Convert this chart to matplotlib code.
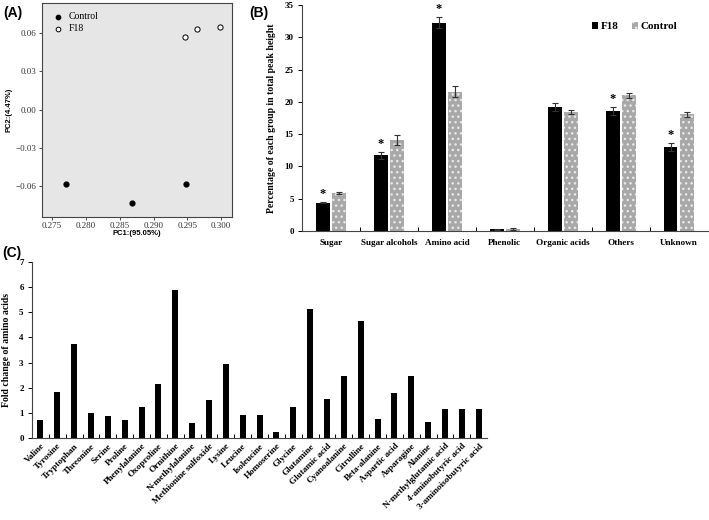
import numpy as np
import matplotlib.pyplot as plt
from matplotlib.patches import Patch

# ---- data ----
# panel A: PCA scores
ctrl_pc1 = [0.2770, 0.2868, 0.2948]
ctrl_pc2 = [-0.0585, -0.0735, -0.0585]
f18_pc1 = [0.2947, 0.2964, 0.2998]
f18_pc2 = [0.0570, 0.0635, 0.0645]

# panel B: percentage of each group
groups = ["Sugar", "Sugar alcohols", "Amino acid", "Phenolic", "Organic acids", "Others", "Unknown"]
f18_pct = [4.4, 11.7, 32.3, 0.25, 19.2, 18.6, 13.0]
f18_err = [0.1, 0.5, 0.9, 0.05, 0.6, 0.6, 0.6]
ctrl_pct = [5.85, 14.1, 21.6, 0.3, 18.4, 21.0, 18.1]
ctrl_err = [0.15, 0.8, 0.9, 0.1, 0.3, 0.4, 0.4]
signif = [True, True, True, False, False, True, True]

# panel C: fold change of amino acids
amino = ["Valine", "Tyrosine", "Tryptophan", "Threonine", "Serine", "Proline",
         "Phenylalanine", "Oxoproline", "Ornithine", "N-methylalanine",
         "Methionine sulfoxide", "Lysine", "Leucine", "Isoleucine", "Homoserine",
         "Glycine", "Glutamine", "Glutamic acid", "Cyanoalanine", "Citrulline",
         "Beta-alanine", "Aspartic acid", "Asparagine", "Alanine",
         "N-methylglutamic acid", "4-aminobutyric acid", "3-aminoisobutyric acid"]
fold = [0.72, 1.83, 3.74, 0.99, 0.87, 0.72, 1.23, 2.13, 5.89, 0.61, 1.49,
        2.94, 0.9, 0.9, 0.25, 1.23, 5.15, 1.53, 2.46, 4.67, 0.76, 1.8, 2.46,
        0.62, 1.14, 1.14, 1.14]

serif = "Liberation Serif"
sans = "Liberation Sans"

fig = plt.figure(figsize=(7.09, 5.2), dpi=100, facecolor="white")

# ---- (A) PCA ----
axA = fig.add_axes([0.0592, 0.583, 0.268, 0.412])
axA.set_facecolor("#e6e6e6")
axA.scatter(ctrl_pc1, ctrl_pc2, s=12, color="black", label="Control", zorder=3)
axA.scatter(f18_pc1, f18_pc2, s=14, facecolor="white", edgecolor="black",
            linewidth=0.7, label="F18", zorder=3)
axA.set_xlim(0.2735, 0.3016)
axA.set_ylim(-0.084, 0.084)
axA.set_xticks([0.275, 0.280, 0.285, 0.290, 0.295, 0.300])
axA.set_xticklabels(["0.275", "0.280", "0.285", "0.290", "0.295", "0.300"])
axA.set_yticks([-0.06, -0.03, 0.0, 0.03, 0.06])
axA.set_yticklabels(["\u22120.06", "\u22120.03", "0.00", "0.03", "0.06"])
for lab in axA.get_xticklabels() + axA.get_yticklabels():
    lab.set_fontfamily(serif)
    lab.set_fontsize(6.5)
    lab.set_color("#333333")
axA.tick_params(length=2.5, width=0.6, pad=1.5, color="#333333")
for sp in axA.spines.values():
    sp.set_color("#444444")
    sp.set_linewidth(0.8)
axA.set_xlabel("PC1:(95.05%)", fontfamily=sans, fontweight="bold", fontsize=5.5, labelpad=0)
axA.set_ylabel("PC2:(4.47%)", fontfamily=sans, fontweight="bold", fontsize=5.5, labelpad=2)
axA.legend(loc="upper left", frameon=False, prop={"family": serif, "size": 7},
           handletextpad=0.1, borderaxespad=0.6, labelspacing=0.3, markerscale=0.9,
           bbox_to_anchor=(-0.02, 1.0))

# ---- (B) group percentages ----
axB = fig.add_axes([0.426, 0.556, 0.572, 0.434])
x = np.arange(len(groups))
w = 0.24
axB.bar(x - 0.14, f18_pct, w, color="black", zorder=2)
axB.errorbar(x - 0.14, f18_pct, yerr=f18_err, fmt="none", ecolor="#333333",
             elinewidth=0.8, capsize=2, capthick=0.8, zorder=3)
axB.bar(x + 0.14, ctrl_pct, w, color="#a8a8a8", edgecolor="#e8e8e8",
        linewidth=0, hatch="...", zorder=2)
axB.errorbar(x + 0.14, ctrl_pct, yerr=ctrl_err, fmt="none", ecolor="#333333",
             elinewidth=0.8, capsize=2, capthick=0.8, zorder=3)
for i in range(len(groups)):
    if signif[i]:
        axB.text(x[i] - 0.14, f18_pct[i] + f18_err[i] + 0.3, "*", ha="center",
                 va="bottom", fontfamily=serif, fontweight="bold", fontsize=9)
axB.set_xlim(-0.5, len(groups) - 0.5)
axB.set_ylim(0, 35)
axB.set_yticks(range(0, 36, 5))
axB.set_xticks(x)
axB.set_xticklabels(groups, fontfamily=serif, fontweight="bold", fontsize=6.6)
axB.set_xticks(np.arange(0.5, len(groups) - 0.5, 1), minor=True)
for lab in axB.get_yticklabels():
    lab.set_fontfamily(serif)
    lab.set_fontweight("bold")
    lab.set_fontsize(6.5)
axB.tick_params(axis="x", which="major", length=0, pad=6)
axB.tick_params(axis="x", which="minor", length=3, direction="in", width=0.7)
axB.tick_params(axis="y", length=3, width=0.7, pad=3)
axB.spines["top"].set_visible(False)
axB.spines["right"].set_visible(False)
axB.spines["left"].set_color("#444444")
axB.spines["bottom"].set_color("#444444")
axB.set_ylabel("Percentage of each group in total peak height", fontfamily=serif,
               fontweight="bold", fontsize=7, labelpad=6)
hB = [Patch(facecolor="black"), Patch(facecolor="#a8a8a8", hatch="...", edgecolor="#e8e8e8", linewidth=0)]
axB.legend(hB, ["F18", "Control"], loc="upper right", bbox_to_anchor=(0.95, 0.97),
           frameon=False, ncol=2, prop={"family": serif, "weight": "bold", "size": 8},
           handlelength=0.6, handleheight=0.6, handletextpad=0.2, columnspacing=1.2)

# ---- (C) fold change ----
axC = fig.add_axes([0.0451, 0.158, 0.642, 0.338])
xc = np.arange(len(amino))
axC.bar(xc, fold, 0.36, color="black")
axC.set_xlim(-0.5, len(amino) - 0.5)
axC.set_ylim(0, 7)
axC.set_yticks(range(0, 8))
axC.set_xticks(xc)
axC.set_xticklabels(amino, rotation=45, ha="right", rotation_mode="anchor",
                    fontfamily=serif, fontweight="bold", fontsize=6.6)
axC.set_xticks(np.arange(0.5, len(amino) - 0.5, 1), minor=True)
for lab in axC.get_yticklabels():
    lab.set_fontfamily(serif)
    lab.set_fontweight("bold")
    lab.set_fontsize(6.5)
axC.tick_params(axis="x", which="major", length=0, pad=3)
axC.tick_params(axis="x", which="minor", length=3, direction="in", width=0.7)
axC.tick_params(axis="y", length=3, width=0.7, pad=3)
axC.spines["top"].set_visible(False)
axC.spines["right"].set_visible(False)
axC.spines["left"].set_color("#444444")
axC.spines["bottom"].set_color("#444444")
axC.set_ylabel("Fold change of amino acids", fontfamily=serif, fontweight="bold",
               fontsize=7, labelpad=6)

# panel letters
fig.text(0.005, 0.967, "(A)", fontfamily=sans, fontweight="bold", fontsize=10)
fig.text(0.352, 0.967, "(B)", fontfamily=sans, fontweight="bold", fontsize=10)
fig.text(0.003, 0.506, "(C)", fontfamily=sans, fontweight="bold", fontsize=10)

fig.savefig("out.png", dpi=100)
